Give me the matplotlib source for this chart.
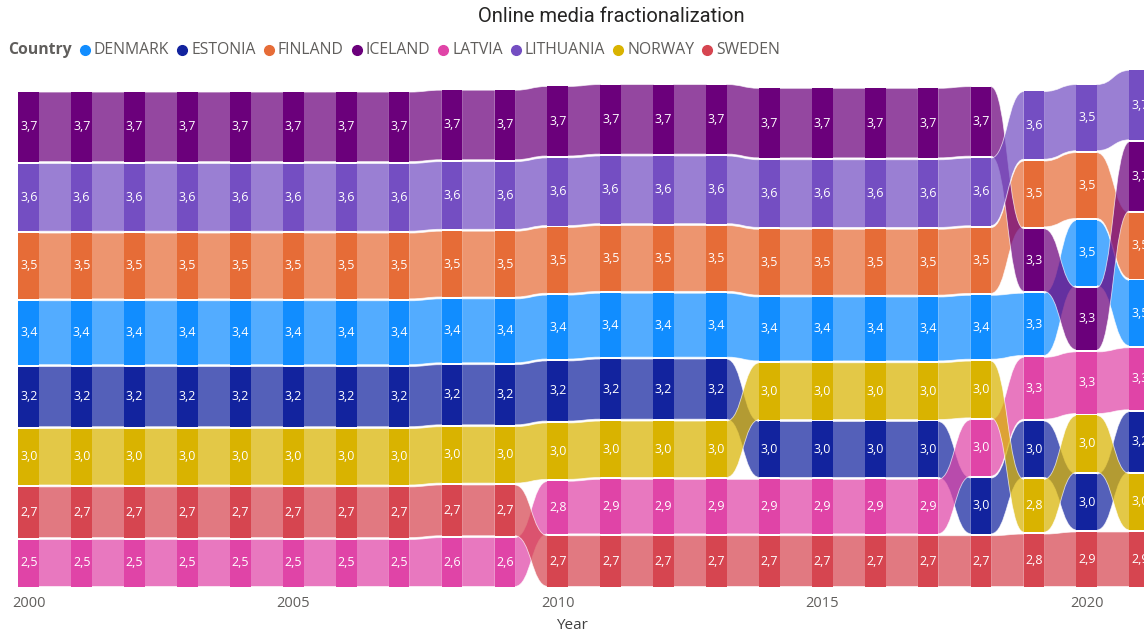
import matplotlib.pyplot as plt
from matplotlib.path import Path
from matplotlib.patches import PathPatch
from matplotlib.lines import Line2D
from matplotlib.colors import to_rgba

# data (values as shown on the chart, ties nudged to keep the visible order)
years = list(range(2000, 2022))
countries = ['DENMARK', 'ESTONIA', 'FINLAND', 'ICELAND', 'LATVIA', 'LITHUANIA', 'NORWAY', 'SWEDEN']
colors = ['#118DFF', '#12239E', '#E66C37', '#6B007B', '#E044A7', '#744EC2', '#D9B300', '#D64550']

denmark = [3.4, 3.4, 3.4, 3.4, 3.4, 3.4, 3.4, 3.4, 3.4, 3.4, 3.4, 3.4, 3.4, 3.4, 3.4, 3.4, 3.4, 3.4, 3.4, 3.31, 3.48, 3.48]
estonia = [3.2, 3.2, 3.2, 3.2, 3.2, 3.2, 3.2, 3.2, 3.2, 3.2, 3.2, 3.2, 3.2, 3.2, 2.98, 2.98, 2.98, 2.98, 2.97, 3.0, 2.98, 3.2]
finland = [3.5, 3.5, 3.5, 3.5, 3.5, 3.5, 3.5, 3.5, 3.5, 3.5, 3.5, 3.5, 3.5, 3.5, 3.5, 3.5, 3.5, 3.5, 3.5, 3.5, 3.5, 3.5]
iceland = [3.7, 3.7, 3.7, 3.7, 3.7, 3.7, 3.7, 3.7, 3.7, 3.7, 3.7, 3.7, 3.7, 3.7, 3.7, 3.7, 3.7, 3.7, 3.7, 3.33, 3.32, 3.68]
latvia = [2.5, 2.5, 2.5, 2.5, 2.5, 2.5, 2.5, 2.5, 2.6, 2.6, 2.8, 2.9, 2.9, 2.9, 2.9, 2.9, 2.9, 2.9, 3.0, 3.29, 3.28, 3.3]
lithuania = [3.6, 3.6, 3.6, 3.6, 3.6, 3.6, 3.6, 3.6, 3.6, 3.6, 3.6, 3.6, 3.6, 3.6, 3.6, 3.6, 3.6, 3.6, 3.6, 3.6, 3.52, 3.7]
norway = [3.0, 3.0, 3.0, 3.0, 3.0, 3.0, 3.0, 3.0, 3.0, 3.0, 3.0, 3.0, 3.0, 3.0, 3.02, 3.02, 3.02, 3.02, 3.02, 2.81, 3.02, 3.0]
sweden = [2.7, 2.7, 2.7, 2.7, 2.7, 2.7, 2.7, 2.7, 2.7, 2.7, 2.7, 2.7, 2.7, 2.7, 2.7, 2.7, 2.7, 2.7, 2.7, 2.79, 2.9, 2.9]

series = [denmark, estonia, finland, iceland, latvia, lithuania, norway, sweden]

plt.rcParams['font.family'] = ['Open Sans', 'DejaVu Sans']

W, H = 1144, 632
fig = plt.figure(figsize=(W / 100, H / 100), dpi=100)
ax = fig.add_axes([0, (H - 586.5) / H, 1, (586.5 - 60) / H])

px_year = 52.9
ax.set_xlim(2000 - 28.8 / px_year, 2000 + (W - 28.8) / px_year)
ax.set_ylim(0, (586.5 - 60) / 18.8)

gap = 0.1
bar_w = 0.39

# stack each year: lowest value at the bottom
bottoms = [[0] * len(years) for _ in countries]
for j in range(len(years)):
    order = sorted(range(len(countries)), key=lambda k: series[k][j])
    y = 0
    for k in order:
        bottoms[k][j] = y
        y += series[k][j] + gap

# ribbons between bars
for k, c in enumerate(countries):
    vals = series[k]
    for j in range(len(years) - 1):
        x0 = years[j] + bar_w / 2 - 0.01
        x1 = years[j + 1] - bar_w / 2 + 0.01
        xm = (x0 + x1) / 2
        b0, t0 = bottoms[k][j], bottoms[k][j] + vals[j]
        b1, t1 = bottoms[k][j + 1], bottoms[k][j + 1] + vals[j + 1]
        verts = [(x0, t0), (xm, t0), (xm, t1), (x1, t1),
                 (x1, b1), (xm, b1), (xm, b0), (x0, b0), (x0, t0)]
        codes = [Path.MOVETO, Path.CURVE4, Path.CURVE4, Path.CURVE4,
                 Path.LINETO, Path.CURVE4, Path.CURVE4, Path.CURVE4, Path.CLOSEPOLY]
        patch = PathPatch(Path(verts, codes), facecolor=to_rgba(colors[k], 0.72),
                          edgecolor=(1, 1, 1, 0.7), lw=0.6, zorder=2)
        ax.add_patch(patch)

# bars and labels
for k, c in enumerate(countries):
    ax.bar(years, series[k], bottom=bottoms[k], width=bar_w, color=colors[k],
           linewidth=0, zorder=3)
    for j, yr in enumerate(years):
        ax.text(yr, bottoms[k][j] + series[k][j] / 2, f'{series[k][j]:.1f}'.replace('.', ','),
                ha='center', va='center', color='white', fontsize=9, zorder=4)

for s in ax.spines.values():
    s.set_visible(False)
ax.set_yticks([])
ax.set_xticks([2000, 2005, 2010, 2015, 2020])
ax.tick_params(axis='x', length=0, pad=7, labelsize=10.5, labelcolor='#605E5C')
ax.set_xlabel('Year', fontsize=11, color='#404040', labelpad=5)

fig.text(611 / W, 1 - 17 / H, 'Online media fractionalization', ha='center', va='center',
         fontsize=14.5, color='#252423', family='Roboto')

# legend
renderer = fig.canvas.get_renderer()
ly = 1 - 50 / H
t = fig.text(8 / W, ly, 'Country', ha='left', va='center', fontsize=11.3,
             weight='bold', color='#605E5C')
x = t.get_window_extent(renderer).x1
for k, c in enumerate(countries):
    x += 13
    fig.add_artist(Line2D([x / W], [ly], marker='o', ms=7, color=colors[k],
                          transform=fig.transFigure, linestyle=''))
    x += 9
    t = fig.text(x / W, ly, c, ha='left', va='center', fontsize=11.3, color='#605E5C')
    x = t.get_window_extent(renderer).x1

fig.savefig('out.png', dpi=100)
